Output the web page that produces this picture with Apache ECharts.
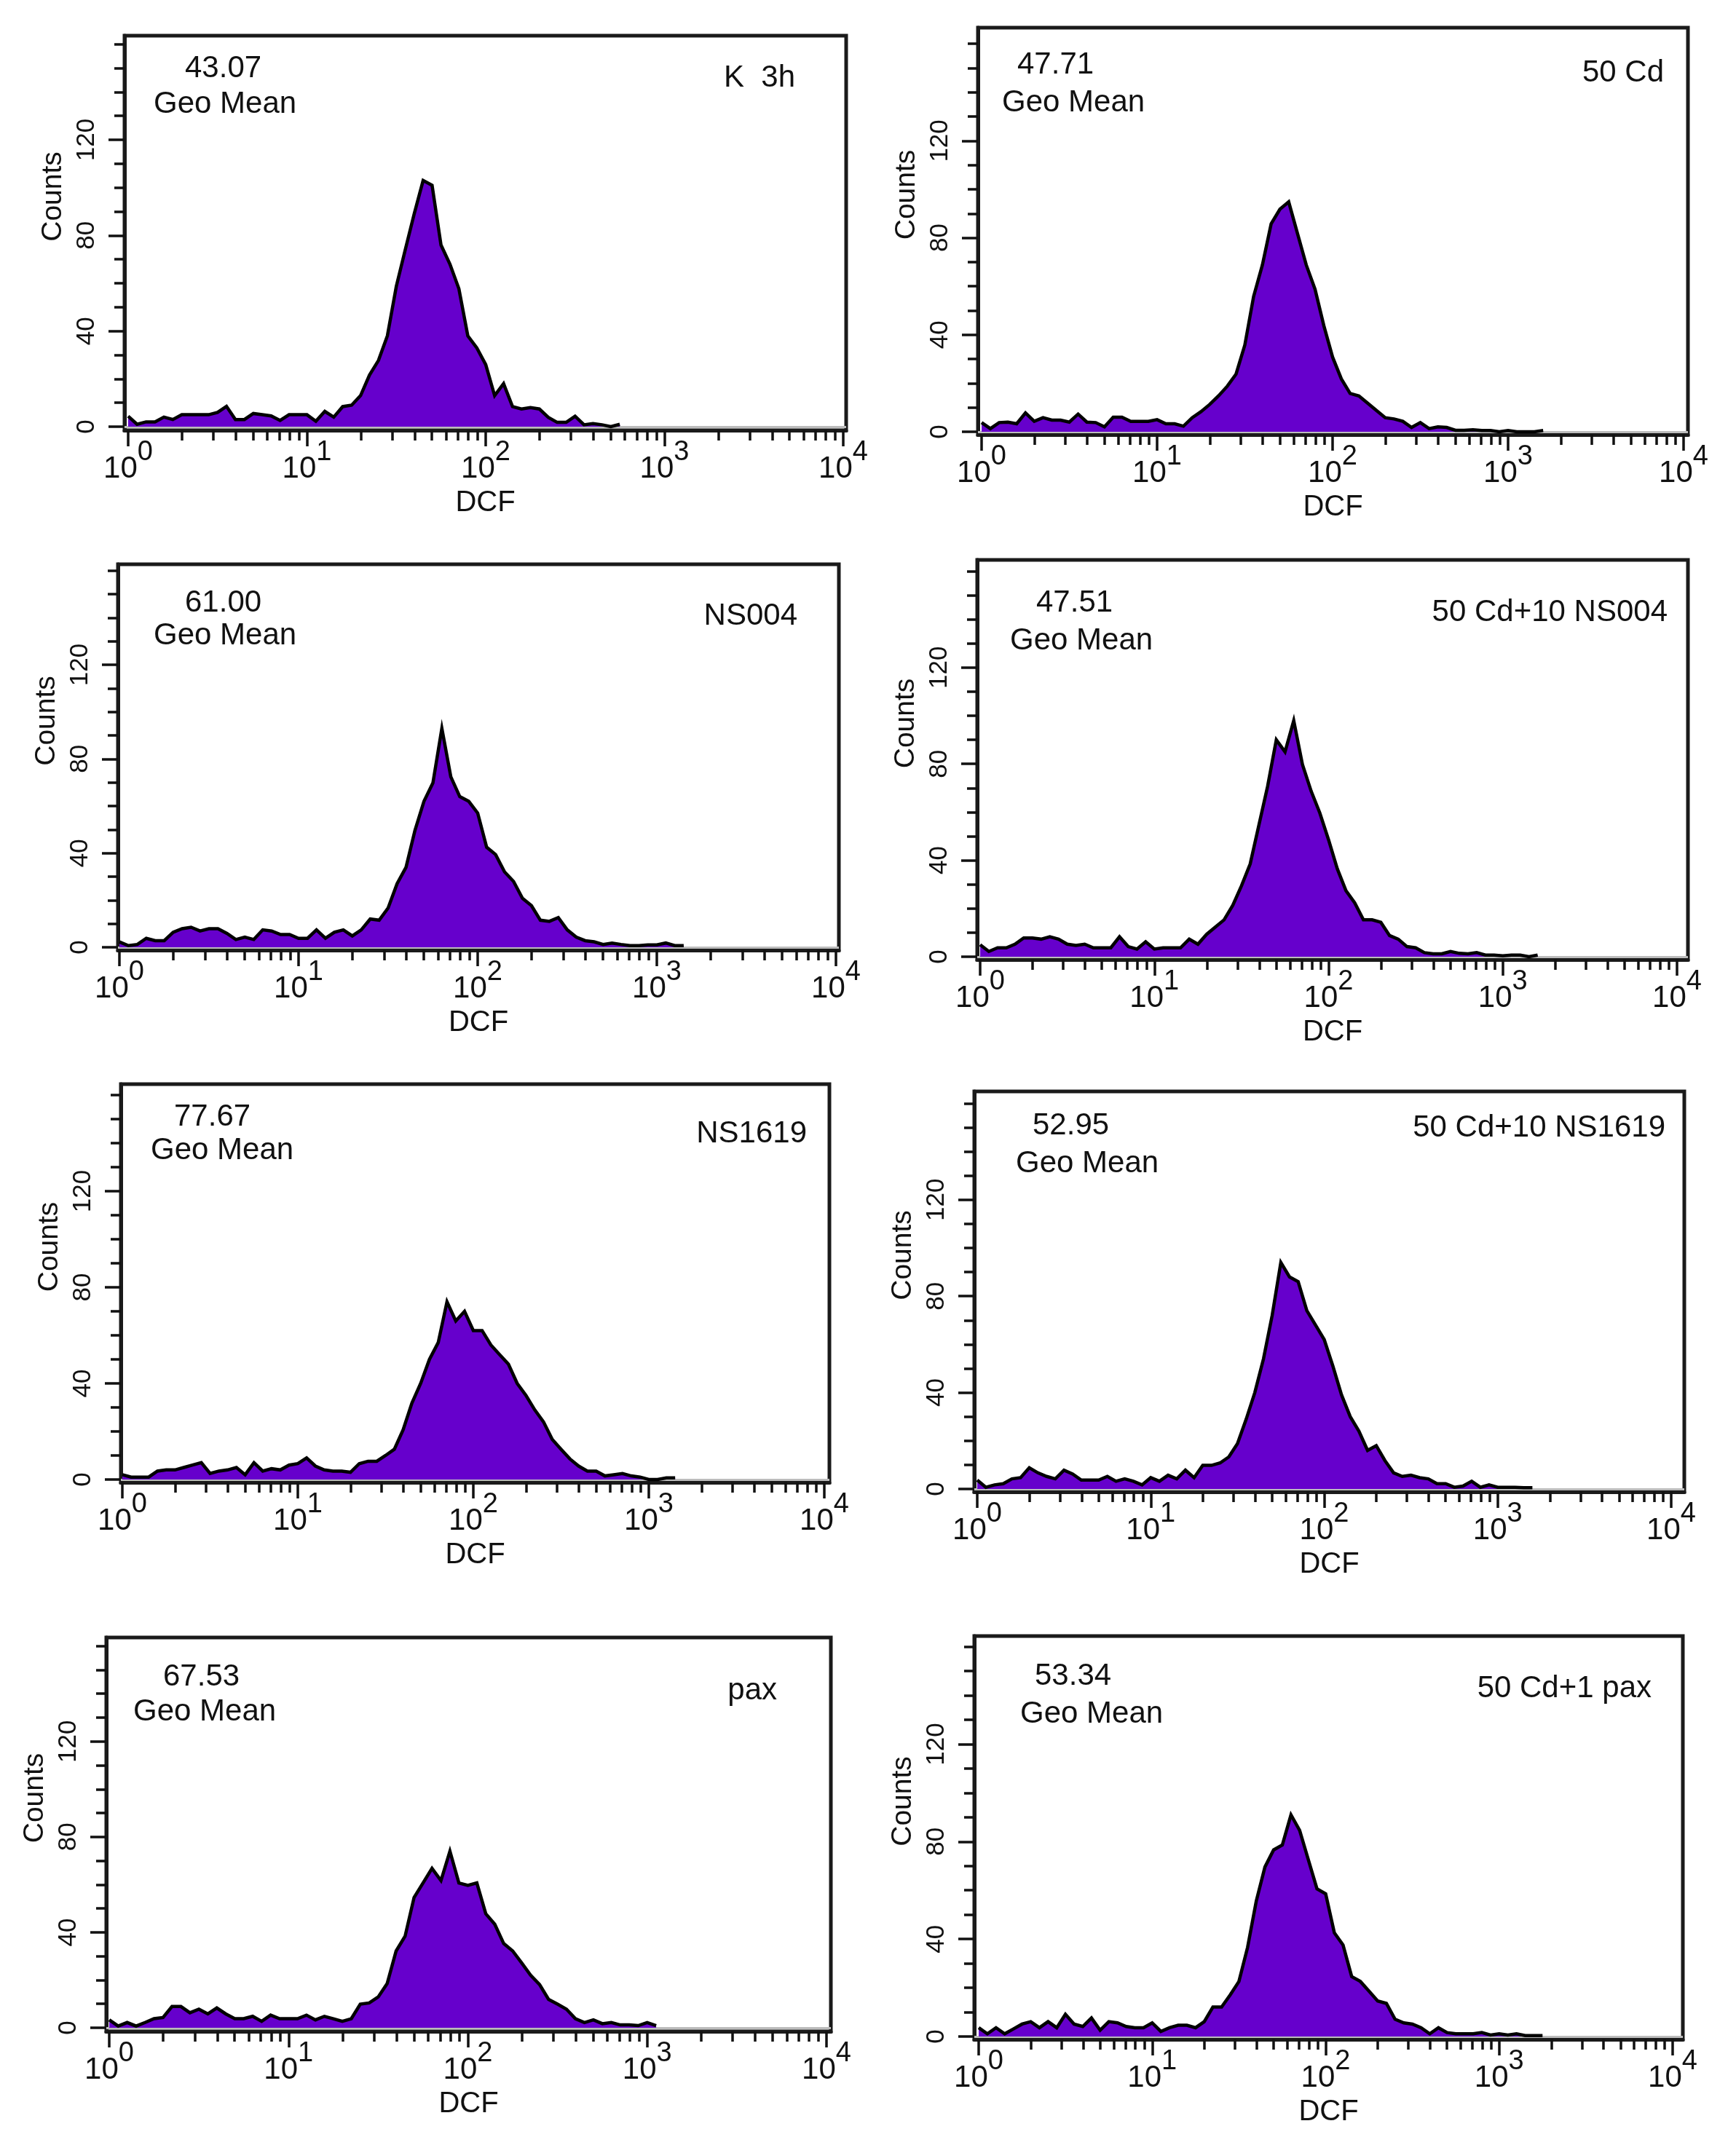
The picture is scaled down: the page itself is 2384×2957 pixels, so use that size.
<!DOCTYPE html>
<html>
<head>
<meta charset="utf-8">
<script src="https://cdn.jsdelivr.net/npm/echarts@6/dist/echarts.min.js"></script>
<style>
html,body{margin:0;padding:0;background:#fff;}
#chart{width:2384px;height:2957px;}
</style>
</head>
<body>
<div id="chart"></div>
<script>
// ---- data ----
// x positions: log10(DCF) of each histogram sample
const logDCF = [0,0.05,0.1,0.15,0.2,0.25,0.3,0.35,0.4,0.45,0.5,0.55,0.6,0.65,0.7,0.75,0.8,0.85,0.9,0.95,
  1,1.05,1.1,1.15,1.2,1.25,1.3,1.35,1.4,1.45,1.5,1.55,1.6,1.65,1.7,1.75,1.8,1.85,1.9,1.95,
  2,2.05,2.1,2.15,2.2,2.25,2.3,2.35,2.4,2.45,2.5,2.55,2.6,2.65,2.7,2.75,2.8,2.85,2.9,2.95,
  3,3.05,3.1,3.15,3.2,3.25];

const countsK3h = [4.4,1,2,2,4,3,5,5,5,5,6,8.5,3,3,5.5,5,4.5,2.6,5,5,5,2.3,6.4,4,8.4,9,13,21.6,27.7,38,58.7,74,89,103,101,76,68,57.7,38,33,26,13,18,8.4,7.4,8,7.4,3.9,1.8,1.8,4.4,0.8,1.3,0.8,0,1];
const counts50Cd = [3.8,1.3,3.8,4,3.3,7.8,4.3,5.8,4.8,4.8,4,7.3,4,3.8,2,6,6,4.3,4.3,4.3,5,3.3,3.3,2.3,5.8,8.3,11.3,14.8,18.8,23.8,35.8,55.8,68.8,85.8,91.8,94.8,81.8,68.8,58.8,43.8,30.8,21.8,15.8,14.8,11.8,8.8,5.8,5.3,4.3,1.8,3.8,1.3,2,1.8,0.6,0.6,0.8,0.5,0.5,0,0.5,0,0,0,0.5];
const countsNS004 = [2.3,0.7,1.2,3.8,2.8,2.8,6.4,7.9,8.5,6.9,7.9,7.9,5.9,3.3,4.3,3.3,7.4,6.9,5.4,5.4,3.8,3.8,7.4,3.8,6.4,7.4,4.8,7.4,12,11.5,16.7,27,34,49.7,62,69.8,93,72.4,64,62,57,42.5,39.4,32,28,20.8,17.7,11.5,11,12.6,7.4,4.3,2.8,2.3,1.2,1.8,1.2,0.7,0.7,1,1,1.8,0.7,0.7];
const countsCdNS004 = [5,2.2,3.7,3.7,5.2,7.8,7.8,7.3,8.3,7.3,5.2,4.7,5.2,3.7,3.7,3.7,8.3,4.2,3.2,6.2,3.2,3.7,3.7,3.7,7.3,5.2,9.3,12.3,15.3,21.3,29.4,38.5,54.6,70.7,90,85,98,79.8,68.7,59.6,48.5,36.5,27.4,22.4,15.3,15.3,14.3,8.8,7.3,4.2,3.7,1.7,1.2,1.2,2.2,1.4,1.2,1.7,0.7,0.7,0.4,0.7,0.7,0,0.7];
const countsNS1619 = [2,1,1,1,3.5,4,4,5,6,7,2.5,3.5,4,5,2,7,3.5,4.5,4,6,6.6,9,5.6,4,3.5,3.5,3,6.6,7.6,7.6,10,12.6,20.7,31.8,40,50,57,74,66,70,62,62,56,52,48,40,35,29,24,16.7,12.6,8.6,5.6,3.5,3.5,1.5,2,2.5,1.5,1,0,0,0.7,0.7];
const countsCdNS1619 = [3.7,0.7,1.7,2.2,4.2,4.7,8.8,6.7,5.2,4.2,7.8,6.2,3.7,3.7,3.7,5.2,3.2,4.2,3.2,1.7,4.7,3.2,5.7,4.2,7.8,4.7,9.8,9.8,10.8,13.3,18.8,28.9,40,54,72,94,88,86,74,68,62,51,39,30,24,16,18,11.8,6.7,5.2,5.7,4.7,4.2,2.2,2.2,0.7,1.2,3.2,0.7,1.7,0.7,0.7,0.7,0.5,0.5];
const countsPax = [3.3,0.7,2.2,0.7,2.2,3.8,4.3,8.9,8.9,6.3,7.8,5.8,8.3,5.8,3.8,3.8,4.8,2.7,5.3,3.8,3.8,3.8,5.3,3.3,4.8,3.8,2.7,3.8,9.9,10.4,12.9,18.5,32.2,38.4,54.6,60.7,66.8,61.7,74,60.7,59.7,60.7,47.8,43.4,35.3,32.2,27.2,22,18.1,11.9,9.9,7.8,3.8,2.2,3.3,1.7,2.2,1.2,1.2,0.9,2.2,0.9];
const countsCdPax = [3.6,1.1,3.6,1.1,3.1,5.1,6.1,3.6,6.1,3.6,9.1,5.1,4.1,7.6,2.6,6.1,5.6,4.1,3.6,3.6,5.6,2.1,3.6,4.6,4.6,3.6,6.1,12.1,12.1,17.1,22.6,36.6,55.6,69.6,76.6,78.6,91,84.6,72.6,60.6,58.6,42.6,37.6,24.6,22.6,18.6,14.6,13.6,7.1,5.6,5.1,3.6,1.1,3.6,1.6,1.1,1.1,1.1,1.6,0.6,1.1,0.6,1.1,0.4,0.4,0.4];

const panelLabels = ['K  3h','50 Cd','NS004','50 Cd+10 NS004','NS1619','50 Cd+10 NS1619','pax','50 Cd+1 pax'];
const geoMeans = ['43.07','47.71','61.00','47.51','77.67','52.95','67.53','53.34'];
const panelCounts = [countsK3h,counts50Cd,countsNS004,countsCdNS004,countsNS1619,countsCdNS1619,countsPax,countsCdPax];

const decadeTicks = [0,1,2,3,4];          // 10^0 .. 10^4
const yTickLabels = [0,40,80,120];
const yMinorTicks = [0,10,20,30,40,50,60,70,80,90,100,110,120,130,140,150,160];
const xAxisName = 'DCF';
const yAxisName = 'Counts';
const meanLabel = 'Geo Mean';

// ---- layout (pixels) ----
// l,r: box edges; t: box top; zero: y of count 0; ppc: px per count; x0/x4: x of 10^0 / 10^4; ax: x-axis line
const layout = [
  {l:171,r:1162,t:49,zero:586,ppc:3.283,x0:176,x4:1158,ax:591, num:[254,94], gm:[211,143], lab:[1092,107]},
  {l:1343,r:2318,t:38,zero:593,ppc:3.33,x0:1348,x4:2312,ax:597, num:[1397,89], gm:[1376,141], lab:[2285,100]},
  {l:162,r:1152,t:775,zero:1301,ppc:3.233,x0:164,x4:1148,ax:1305, num:[254,828], gm:[211,873], lab:[1095,846]},
  {l:1342,r:2318,t:769,zero:1314,ppc:3.31,x0:1346,x4:2303,ax:1318, num:[1423,828], gm:[1387,880], lab:[2290,841]},
  {l:166,r:1139,t:1489,zero:2032,ppc:3.30,x0:168,x4:1132,ax:2036, num:[239,1534], gm:[207,1580], lab:[1108,1557]},
  {l:1338,r:2313,t:1499,zero:2045,ppc:3.31,x0:1342,x4:2295,ax:2049, num:[1418,1546], gm:[1395,1598], lab:[2287,1549]},
  {l:146,r:1141,t:2249,zero:2785,ppc:3.277,x0:150,x4:1135,ax:2790, num:[224,2303], gm:[183,2351], lab:[1067,2322]},
  {l:1338,r:2311,t:2247,zero:2797,ppc:3.346,x0:1344,x4:2297,ax:2801, num:[1421,2302], gm:[1401,2354], lab:[2268,2319]}
];

const FONT = "'Liberation Sans', Arial, Helvetica, sans-serif";
const INK = '#111';
const xMinorTicks = [];
for (let d = 0; d < 4; d++) for (let k = 2; k <= 9; k++) xMinorTicks.push(d + Math.log10(k));

const grids = [], xAxes = [], yAxes = [], series = [], graphics = [];

layout.forEach((L, i) => {
  const dec = (L.x4 - L.x0) / 4;
  const xMin = -(L.x0 - L.l) / dec;
  const xMax = 4 + (L.r - L.x4) / dec;
  const yMax = (L.zero - L.t) / L.ppc;
  const yMin = -(L.ax - L.zero) / L.ppc;

  grids.push({left: L.l, top: L.t, width: L.r - L.l, height: L.ax - L.t,
    show: true, borderColor: '#1a1a1a', borderWidth: 5, backgroundColor: '#fff'});

  // minor x ticks + axis line
  xAxes.push({gridIndex: i, type: 'value', min: xMin, max: xMax, position: 'bottom',
    axisLine: {show: true, onZero: false, lineStyle: {color: '#1a1a1a', width: 5}},
    axisTick: {show: true, customValues: xMinorTicks, length: 14, inside: false, lineStyle: {color: INK, width: 3.5}},
    axisLabel: {show: false}, splitLine: {show: false}});
  // major x ticks + labels
  xAxes.push({gridIndex: i, type: 'value', min: xMin, max: xMax, position: 'bottom',
    axisLine: {show: false, onZero: false},
    axisTick: {show: true, customValues: decadeTicks, length: 22, lineStyle: {color: INK, width: 3.5}},
    axisLabel: {show: true, customValues: decadeTicks, margin: 12,
      formatter: v => '{b|10}{s|' + Math.round(v) + '}',
      rich: {
        b: {fontSize: 42, fontFamily: FONT, color: INK, verticalAlign: 'bottom'},
        s: {fontSize: 38, fontFamily: FONT, color: INK, verticalAlign: 'bottom', padding: [0, 0, 24, 0]}
      }},
    splitLine: {show: false},
    name: xAxisName, nameLocation: 'middle', nameGap: 80,
    nameTextStyle: {fontSize: 40, fontFamily: FONT, color: INK}});

  // minor y ticks + axis line
  yAxes.push({gridIndex: i, type: 'value', min: yMin, max: yMax, position: 'left',
    axisLine: {show: true, onZero: false, lineStyle: {color: '#1a1a1a', width: 5}},
    axisTick: {show: true, customValues: yMinorTicks, length: 14, lineStyle: {color: INK, width: 3.5}},
    axisLabel: {show: false}, splitLine: {show: false}});
  // major y ticks + labels
  yAxes.push({gridIndex: i, type: 'value', min: yMin, max: yMax, position: 'left',
    axisLine: {show: false, onZero: false},
    axisTick: {show: true, customValues: yTickLabels, length: 22, lineStyle: {color: INK, width: 3.5}},
    axisLabel: {show: true, customValues: yTickLabels, rotate: 90, margin: 34,
      fontSize: 35, fontFamily: FONT, color: INK},
    splitLine: {show: false},
    name: yAxisName, nameLocation: 'middle', nameGap: 78, nameRotate: 90,
    nameTextStyle: {fontSize: 39, fontFamily: FONT, color: INK, padding: [0, 0, 0, 100]}});

  const vals = panelCounts[i];
  series.push({
    type: 'line', xAxisIndex: 2 * i + 1, yAxisIndex: 2 * i + 1,
    data: vals.map((v, j) => [logDCF[j], v]),
    symbol: 'none', showSymbol: false, smooth: false, z: 3,
    lineStyle: {color: '#000', width: 4.5, join: 'miter'},
    areaStyle: {color: '#6600cc', opacity: 1, origin: 0},
    markLine: {silent: true, symbol: ['none', 'none'], z: 1,
      label: {show: false},
      lineStyle: {color: '#bcbcbc', width: 3, type: 'solid'},
      data: [{yAxis: 0}]},
    animation: false
  });

  const txt = (x, y, text, align) => ({
    type: 'text', x: x, y: y, silent: true,
    style: {text: text, fontSize: 42, fontFamily: FONT, fill: INK,
      align: align, verticalAlign: 'middle', textAlign: align, textVerticalAlign: 'middle'}
  });
  graphics.push(txt(L.num[0], L.num[1], geoMeans[i], 'left'));
  graphics.push(txt(L.gm[0], L.gm[1], meanLabel, 'left'));
  graphics.push(txt(L.lab[0], L.lab[1], panelLabels[i], 'right'));
});

const chart = echarts.init(document.getElementById('chart'), null, {renderer: 'canvas'});
chart.setOption({
  backgroundColor: '#fff',
  animation: false,
  grid: grids, xAxis: xAxes, yAxis: yAxes, series: series,
  graphic: {elements: graphics}
});
</script>
</body>
</html>
